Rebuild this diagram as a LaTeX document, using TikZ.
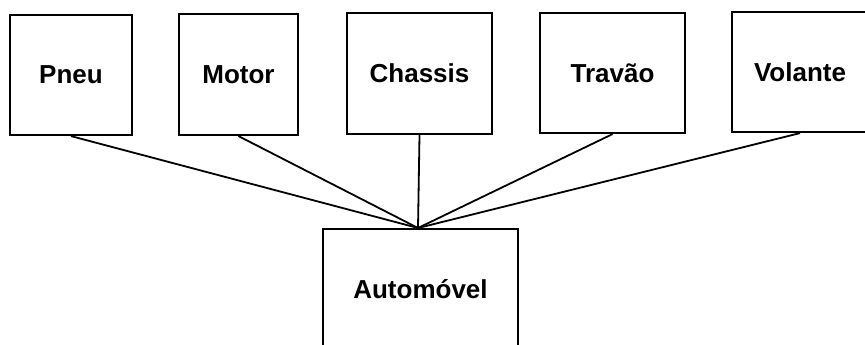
\documentclass[tikz,border=0pt]{standalone}
\usepackage{fontspec}
\setmainfont{Liberation Sans}
\begin{document}
\begin{tikzpicture}[x=1pt,y=-1pt,
  part/.style={draw, line width=2.2pt, inner sep=0pt, align=center,
    font=\bfseries\fontsize{26}{30}\selectfont},
  link/.style={line width=1.8pt}]
\useasboundingbox (0,0) rectangle (865,345);
\clip (0,0) rectangle (865,345);
% components
\node[part, minimum width=122pt, minimum height=120pt] (pneu)    at (71,75)    {Pneu};
\node[part, minimum width=119pt, minimum height=121pt] (motor)   at (238.5,74.5) {Motor};
\node[part, minimum width=145pt, minimum height=121pt] (chassis) at (419.5,73.5) {Chassis};
\node[part, minimum width=145pt, minimum height=120pt] (travao)  at (612.5,73) {Travão};
\node[part, minimum width=136pt, minimum height=120pt] (volante) at (800,72)   {Volante};
% whole
\node[part, minimum width=195pt, minimum height=120pt] (auto)    at (420.5,289) {Automóvel};
\coordinate (apex) at (418,228);
% composition links
\foreach \p in {pneu,motor,chassis,travao,volante}
  \draw[link] (\p.south) -- (apex);
\end{tikzpicture}
\end{document}
